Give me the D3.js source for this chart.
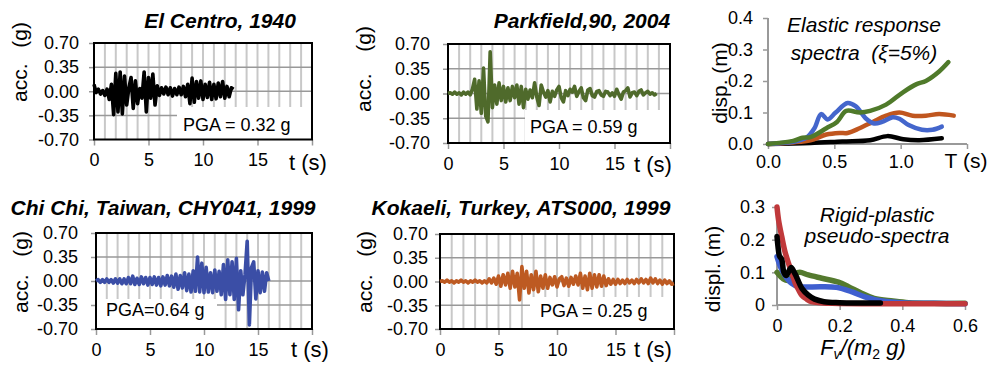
<!DOCTYPE html>
<html>
<head>
<meta charset="utf-8">
<script src="https://cdn.jsdelivr.net/npm/d3@7"></script>
<style>
  body { margin: 0; background: #fff; }
  text { font-family: "Liberation Sans", Arial, Helvetica, sans-serif; }
</style>
</head>
<body>
<svg id="fig" width="997" height="365"></svg>
<script>
// ---- accelerograms, every 0.2 s (g) ----
var recDt = 0.2

var elCentro = [
  0.10, -0.02, 0.03, -0.04, 0.01,
  -0.06, 0.03, -0.12, 0.10, -0.34,
  0.26, -0.30, 0.28, -0.33, 0.22,
  -0.20, 0.05, 0.20, -0.25, 0.15,
  -0.18, 0.04, -0.10, 0.28, -0.30,
  0.20, -0.10, 0.25, -0.20, 0.08,
  -0.06, 0.05, -0.04, 0.06, -0.05,
  0.05, -0.07, 0.04, -0.05, 0.06,
  -0.05, 0.07, -0.08, 0.10, -0.18,
  0.19, -0.16, 0.14, -0.10, 0.15,
  -0.12, 0.10, -0.09, 0.13, -0.12,
  0.10, -0.11, 0.12, -0.08, 0.14,
  -0.10, 0.07, -0.08, 0.05, 0.03
]

var parkfield = [
  0.00, 0.01, -0.01, 0.02, -0.01,
  0.01, -0.02, 0.02, -0.01, 0.02,
  -0.02, 0.06, 0.20, -0.22, 0.18,
  -0.28, 0.36, -0.32, -0.40, 0.59,
  -0.20, 0.12, -0.15, 0.15, -0.10,
  0.10, -0.12, 0.08, -0.10, 0.10,
  -0.06, 0.12, -0.15, 0.10, -0.20,
  0.06, -0.08, 0.05, -0.06, 0.15,
  -0.05, -0.17, 0.12, 0.02, -0.05,
  0.04, -0.12, 0.03, -0.04, 0.05,
  0.10, -0.06, -0.12, 0.04, -0.03,
  0.06, 0.02, 0.10, -0.04, 0.03,
  0.08, -0.06, -0.10, 0.05, 0.07,
  -0.03, -0.05, 0.03, 0.04, -0.02,
  -0.04, 0.03, 0.02, -0.03, 0.01,
  -0.04, 0.06, -0.02, -0.08, 0.02,
  0.04, 0.08, -0.05, 0.01, 0.02,
  -0.03, 0.03, 0.05, -0.02, 0.01,
  0.03, -0.01, 0.01, -0.02, 0.00
]

var chiChi = [
  0.00, 0.02, -0.02, 0.02, -0.02,
  0.03, -0.02, 0.02, -0.03, 0.03,
  -0.03, 0.03, -0.04, 0.03, -0.04,
  0.05, -0.04, 0.07, -0.05, 0.04,
  -0.05, 0.06, -0.04, 0.05, -0.06,
  0.05, -0.05, 0.06, -0.06, 0.05,
  -0.07, 0.06, -0.06, 0.08, -0.07,
  0.07, -0.09, 0.10, -0.12, 0.08,
  -0.10, 0.12, -0.14, 0.10, -0.16,
  0.15, -0.15, 0.35, -0.16, 0.26,
  -0.17, 0.20, -0.16, 0.12, -0.17,
  0.16, -0.15, 0.14, -0.20, 0.24,
  -0.27, 0.31, -0.20, 0.28, -0.27,
  0.33, -0.42, 0.15, -0.20, 0.10,
  0.58, -0.64, 0.20, 0.28, -0.26,
  0.15, -0.17, 0.13, -0.15, 0.12,
  0.00
]

var kokaeli = [
  0.00, 0.01, -0.01, 0.02, -0.01,
  0.01, -0.02, 0.01, -0.01, 0.02,
  -0.01, 0.01, -0.02, 0.01, -0.01,
  0.02, -0.01, 0.01, -0.02, 0.01,
  -0.02, 0.04, -0.02, 0.05, -0.04,
  0.08, -0.07, 0.10, -0.05, 0.12,
  -0.10, 0.15, -0.08, 0.12, -0.27,
  0.22, -0.10, 0.15, -0.17, 0.10,
  -0.12, 0.15, -0.15, 0.08, -0.10,
  0.10, -0.10, 0.06, -0.05, 0.07,
  -0.08, 0.04, 0.07, -0.06, 0.05,
  -0.07, 0.06, -0.04, 0.08, -0.05,
  0.12, -0.10, 0.08, -0.12, 0.12,
  -0.10, 0.10, -0.08, 0.10, -0.07,
  0.08, -0.06, 0.04, -0.04, 0.03,
  -0.04, 0.03, -0.03, 0.02, -0.03,
  0.03, -0.02, 0.02, -0.03, 0.03,
  -0.02, 0.04, -0.02, 0.03, -0.03,
  0.05, -0.02, 0.04, -0.03, 0.02,
  -0.04, 0.02, -0.03, 0.01, -0.04,
  -0.03
]

var accTicks = [0.70, 0.35, 0, -0.35, -0.70]
var accTickLabels = ["0.70", "0.35", "0.00", "-0.35", "-0.70"]
var timeTicks = [0, 5, 10, 15, 20]
var timeTickLabels = ["0", "5", "10", "15", ""]

// ---- elastic displacement spectra (T in s, disp in m) ----
var esGreenT = [0, 0.19, 0.26, 0.32, 0.44, 0.52, 0.59, 0.69, 0.77, 0.89, 1.02, 1.12, 1.19, 1.29, 1.36]
var esGreen  = [0, 0.01, 0.02, 0.022, 0.05, 0.07, 0.105, 0.10, 0.105, 0.125, 0.165, 0.19, 0.20, 0.23, 0.26]
var esBlueT  = [0, 0.20, 0.29, 0.35, 0.40, 0.45, 0.51, 0.60, 0.66, 0.74, 0.80, 0.86, 0.94, 0.99, 1.06, 1.16, 1.24, 1.31]
var esBlue   = [0, 0.008, 0.02, 0.05, 0.095, 0.078, 0.10, 0.13, 0.12, 0.08, 0.065, 0.07, 0.085, 0.08, 0.06, 0.045, 0.045, 0.055]
var esOrangeT = [0, 0.19, 0.32, 0.44, 0.54, 0.60, 0.69, 0.79, 0.89, 0.99, 1.09, 1.19, 1.29, 1.40]
var esOrange  = [0, 0.005, 0.012, 0.03, 0.035, 0.035, 0.05, 0.07, 0.09, 0.10, 0.09, 0.09, 0.095, 0.09]
var esBlackT = [0, 0.32, 0.56, 0.77, 0.90, 1.02, 1.14, 1.31]
var esBlack  = [0, 0.003, 0.008, 0.012, 0.025, 0.015, 0.012, 0.018]
var esYTicks = [0, 0.1, 0.2, 0.3, 0.4]
var esYLabels = ["0.0", "0.1", "0.2", "0.3", "0.4"]
var esXTicks = [0, 0.5, 1.0, 1.5]
var esXLabels = ["0.0", "0.5", "1.0", ""]

// ---- rigid-plastic pseudo-spectra (Fv/(m2 g), displ. in m) ----
var rpGreenF = [0, 0.02, 0.036, 0.057, 0.073, 0.10, 0.143, 0.196, 0.228, 0.27, 0.31, 0.37, 0.42, 0.50, 0.60]
var rpGreen  = [0.10, 0.08, 0.075, 0.095, 0.10, 0.092, 0.082, 0.07, 0.056, 0.036, 0.02, 0.012, 0.007, 0.005, 0.005]
var rpBlueF = [0, 0.012, 0.026, 0.047, 0.068, 0.09, 0.14, 0.19, 0.24, 0.28, 0.335, 0.41, 0.50, 0.60]
var rpBlue  = [0.148, 0.115, 0.09, 0.066, 0.056, 0.055, 0.056, 0.054, 0.04, 0.025, 0.012, 0.006, 0.005, 0.004]
var rpRedF = [0, 0.005, 0.015, 0.025, 0.036, 0.047, 0.057, 0.068, 0.079, 0.095, 0.11, 0.14, 0.175, 0.30, 0.45, 0.60]
var rpRed  = [0.30, 0.26, 0.21, 0.165, 0.13, 0.10, 0.07, 0.048, 0.03, 0.018, 0.01, 0.007, 0.005, 0.004, 0.004, 0.004]
var rpBlackF = [0, 0.003, 0.008, 0.015, 0.022, 0.03, 0.045, 0.055, 0.065, 0.08, 0.10, 0.12, 0.15, 0.20, 0.26, 0.33]
var rpBlack  = [0.21, 0.18, 0.15, 0.14, 0.10, 0.09, 0.115, 0.10, 0.08, 0.05, 0.03, 0.018, 0.01, 0.007, 0.006, 0.006]
var rpYTicks = [0, 0.1, 0.2, 0.3]
var rpYLabels = ["0", "0.1", "0.2", "0.3"]
var rpXTicks = [0, 0.2, 0.4, 0.6]
var rpXLabels = ["0", "0.2", "0.4", "0.6"]

var svg = d3.select("#fig")

function styleAxis(g) {
    g.select(".domain").remove()
    g.selectAll(".tick line").attr("stroke", "#999").attr("stroke-width", 1.5)
    g.selectAll(".tick text").attr("fill", "#000").attr("font-size", 18)
        .attr("font-family", null)
}

// one accelerogram panel
function accPanel(o) {
    var x = d3.scaleLinear().domain([0, 20]).range([o.x0, o.x1])
    var y = d3.scaleLinear().domain([-0.7, 0.7]).range([o.y1, o.y0])
    var g = svg.append("g")

    // 1 s grid
    g.selectAll("line.vgrid").data(d3.range(1, 20)).enter().append("line")
        .attr("class", "vgrid")
        .attr("x1", function (d) { return x(d) }).attr("x2", function (d) { return x(d) })
        .attr("y1", o.y0).attr("y2", o.y1)
        .attr("stroke", "#c8c8c8").attr("stroke-width", 2)
    g.selectAll("line.hgrid").data([0.35, 0, -0.35]).enter().append("line")
        .attr("class", "hgrid")
        .attr("x1", o.x0).attr("x2", o.x1)
        .attr("y1", function (d) { return y(d) }).attr("y2", function (d) { return y(d) })
        .attr("stroke", "#999").attr("stroke-width", 1.5)

    // white box behind the PGA note
    g.append("rect")
        .attr("x", o.pga.x).attr("y", o.pga.y).attr("width", o.pga.w).attr("height", o.pga.h)
        .attr("fill", "#fff")

    g.append("g").attr("transform", "translate(" + o.x0 + ",0)")
        .call(d3.axisLeft(y).tickValues(accTicks).tickSize(5).tickPadding(o.ypad)
            .tickFormat(function (d, i) { return accTickLabels[i] }))
        .call(styleAxis)
    g.append("g").attr("transform", "translate(0," + o.y1 + ")")
        .call(d3.axisBottom(x).tickValues(timeTicks).tickSize(6).tickPadding(8)
            .tickFormat(function (d, i) { return timeTickLabels[i] }))
        .call(styleAxis)

    g.append("rect")
        .attr("x", o.x0).attr("y", o.y0)
        .attr("width", o.x1 - o.x0).attr("height", o.y1 - o.y0)
        .attr("fill", "none").attr("stroke", "#000").attr("stroke-width", 2)

    var line = d3.line()
        .x(function (d, i) { return x(i * recDt) })
        .y(function (d) { return y(d) })
    g.append("path")
        .datum(o.data)
        .attr("d", line)
        .attr("fill", "none").attr("stroke", o.color)
        .attr("stroke-width", 3.6).attr("stroke-linejoin", "round")

    g.append("text")
        .attr("x", o.pga.tx).attr("y", o.pga.ty)
        .attr("font-size", 18).text(o.pga.text)

    g.append("text")
        .attr("x", o.title.x).attr("y", o.title.y)
        .attr("text-anchor", "middle")
        .attr("font-size", 21).attr("font-weight", "bold").attr("font-style", "italic")
        .text(o.title.text)

    g.append("text")
        .attr("transform", "translate(" + o.ylab.x + "," + o.ylab.y + ") rotate(-90)")
        .attr("text-anchor", "middle").attr("font-size", 21)
        .attr("word-spacing", o.ylab.ws)
        .text("acc. (g)")

    g.append("text")
        .attr("x", o.tlab.x).attr("y", o.tlab.y)
        .attr("text-anchor", "middle").attr("font-size", 22)
        .text("t (s)")
}

accPanel({
    data: elCentro, color: "#000",
    x0: 94, x1: 312, y0: 43, y1: 139.5, ypad: 10,
    pga: { x: 177, y: 107, w: 135, h: 32, tx: 183, ty: 131, text: "PGA = 0.32 g" },
    title: { x: 220, y: 28, text: "El Centro, 1940" },
    ylab: { x: 27, y: 62, ws: 10 },
    tlab: { x: 308, y: 170 }
})
accPanel({
    data: parkfield, color: "#4f6a2b",
    x0: 448, x1: 670, y0: 44, y1: 143, ypad: 13,
    pga: { x: 525, y: 110, w: 145, h: 33, tx: 530, ty: 133, text: "PGA = 0.59 g" },
    title: { x: 582, y: 28, text: "Parkfield,90, 2004" },
    ylab: { x: 371, y: 69, ws: 16 },
    tlab: { x: 653, y: 172 }
})
accPanel({
    data: chiChi, color: "#3b4ea6",
    x0: 96, x1: 312, y0: 233, y1: 329, ypad: 13,
    pga: { x: 97, y: 299, w: 120, h: 30, tx: 106, ty: 316, text: "PGA=0.64 g" },
    title: { x: 163, y: 215, text: "Chi Chi, Taiwan, CHY041, 1999" },
    ylab: { x: 28, y: 272, ws: 12 },
    tlab: { x: 310, y: 357 }
})
accPanel({
    data: kokaeli, color: "#bd5a22",
    x0: 440, x1: 674, y0: 234, y1: 329, ypad: 7,
    pga: { x: 530, y: 297, w: 144, h: 32, tx: 540, ty: 317, text: "PGA = 0.25 g" },
    title: { x: 521, y: 215, text: "Kokaeli, Turkey, ATS000, 1999" },
    ylab: { x: 372, y: 272, ws: 12 },
    tlab: { x: 653, y: 357 }
})

// generic x-y panel with plain grey axes
function curvePanel(o) {
    var x = d3.scaleLinear().domain(o.xdom).range([o.x0, o.x1])
    var y = d3.scaleLinear().domain(o.ydom).range([o.y1, o.y0])
    var g = svg.append("g")

    g.append("g").attr("transform", "translate(" + o.x0 + ",0)")
        .call(d3.axisLeft(y).tickValues(o.yticks).tickSize(5).tickPadding(o.ypad)
            .tickFormat(function (d, i) { return o.ylabels[i] }))
        .call(styleAxis)
    g.append("g").attr("transform", "translate(0," + o.y1 + ")")
        .call(d3.axisBottom(x).tickValues(o.xticks).tickSize(5).tickPadding(o.xpad)
            .tickFormat(function (d, i) { return o.xlabels[i] }))
        .call(styleAxis)
    g.append("line").attr("x1", o.x0).attr("x2", o.x0).attr("y1", o.y0).attr("y2", o.y1)
        .attr("stroke", "#999").attr("stroke-width", 2)
    g.append("line").attr("x1", o.x0).attr("x2", o.x1).attr("y1", o.y1).attr("y2", o.y1)
        .attr("stroke", "#999").attr("stroke-width", 2)

    o.series.forEach(function (s) {
        var pts = s.x.map(function (v, i) { return [v, s.y[i]] })
        var line = d3.line()
            .x(function (d) { return x(d[0]) })
            .y(function (d) { return y(d[1]) })
            .curve(d3.curveCatmullRom.alpha(0.5))
        g.append("path").datum(pts).attr("d", line)
            .attr("fill", "none").attr("stroke", s.color)
            .attr("stroke-width", o.lw).attr("stroke-linejoin", "round").attr("stroke-linecap", "round")
    })

    o.title.forEach(function (t, i) {
        g.append("text").attr("x", o.tx).attr("y", o.ty[i])
            .attr("text-anchor", "middle").attr("font-size", 21).attr("font-style", "italic")
            .attr("xml:space", "preserve").style("white-space", "pre")
            .text(t)
    })
    g.append("text")
        .attr("transform", "translate(" + o.ylab.x + "," + o.ylab.y + ") rotate(-90)")
        .attr("text-anchor", "middle").attr("font-size", 21)
        .text(o.ylab.text)
    return g
}

curvePanel({
    xdom: [0, 1.5], ydom: [0, 0.4], x0: 768, x1: 967, y0: 18, y1: 144,
    yticks: esYTicks, ylabels: esYLabels, xticks: esXTicks, xlabels: esXLabels,
    ypad: 10, xpad: 6, lw: 4.5,
    series: [
        { x: esBlackT, y: esBlack, color: "#000" },
        { x: esOrangeT, y: esOrange, color: "#c0561f" },
        { x: esBlueT, y: esBlue, color: "#4466cc" },
        { x: esGreenT, y: esGreen, color: "#4f7a2a" }
    ],
    title: ["Elastic response", "spectra  (\u03be=5%)"], tx: 864, ty: [32, 60],
    ylab: { x: 727, y: 83, text: "disp. (m)" }
}).append("text")
    .attr("x", 966).attr("y", 168).attr("text-anchor", "middle").attr("font-size", 21)
    .text("T (s)")

var rp = curvePanel({
    xdom: [0, 0.6], ydom: [0, 0.3], x0: 777, x1: 965, y0: 207, y1: 305,
    yticks: rpYTicks, ylabels: rpYLabels, xticks: rpXTicks, xlabels: rpXLabels,
    ypad: 7, xpad: 9, lw: 5.5,
    series: [
        { x: rpGreenF, y: rpGreen, color: "#547a2e" },
        { x: rpBlueF, y: rpBlue, color: "#3f5fcf" },
        { x: rpRedF, y: rpRed, color: "#c0393b" },
        { x: rpBlackF, y: rpBlack, color: "#000" }
    ],
    title: ["Rigid-plastic", "pseudo-spectra"], tx: 877, ty: [222, 243],
    ylab: { x: 720, y: 269, text: "displ. (m)" }
})
var fl = rp.append("text").attr("x", 863).attr("y", 355)
    .attr("text-anchor", "middle").attr("font-size", 22).attr("font-style", "italic")
fl.append("tspan").text("F")
fl.append("tspan").attr("font-size", 14).attr("dy", 4).text("v")
fl.append("tspan").attr("dy", -4).text("/(m")
fl.append("tspan").attr("font-size", 14).attr("dy", 4).attr("font-style", "normal").text("2")
fl.append("tspan").attr("dy", -4).text(" g)")
</script>
</body>
</html>
